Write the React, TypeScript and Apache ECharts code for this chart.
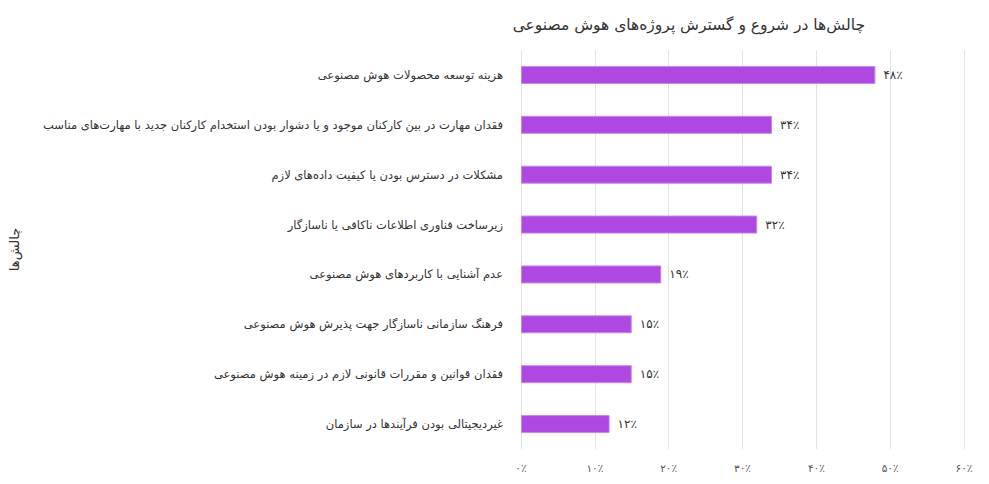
import { useEffect, useRef } from 'react'
import * as echarts from 'echarts'

// ── Data ─────────────────────────────────────────────────────────────────────
const TITLE = 'چالش‌ها در شروع و گسترش پروژه‌های هوش مصنوعی'
const AXIS_NAME = 'چالش‌ها'

const CATEGORIES = [
  'هزینه توسعه محصولات هوش مصنوعی',
  'فقدان مهارت در بین کارکنان موجود و یا دشوار بودن استخدام کارکنان جدید با مهارت‌های مناسب',
  'مشکلات در دسترس بودن یا کیفیت داده‌های لازم',
  'زیرساخت فناوری اطلاعات ناکافی یا ناسازگار',
  'عدم آشنایی با کاربردهای هوش مصنوعی',
  'فرهنگ سازمانی ناسازگار جهت پذیرش هوش مصنوعی',
  'فقدان قوانین و مقررات قانونی لازم در زمینه هوش مصنوعی',
  'غیردیجیتالی بودن فرآیندها در سازمان',
]
const VALUES = [48, 34, 34, 32, 19, 15, 15, 12]

const X_MIN = 0
const X_MAX = 60
const X_STEP = 10

const FONT = '"DejaVu Sans", "Noto Sans", sans-serif'
const FA_DIGITS = '۰۱۲۳۴۵۶۷۸۹'
const toFa = (n: number) => String(n).replace(/\d/g, d => FA_DIGITS[+d]) + '٪'

export default function App() {
  const chartRef = useRef<HTMLDivElement>(null)

  useEffect(() => {
    if (!chartRef.current) return
    const chart = echarts.init(chartRef.current, null, { renderer: 'svg' })

    chart.setOption({
      animation: false,
      backgroundColor: '#fff',
      textStyle: { fontFamily: FONT },
      title: {
        text: TITLE,
        right: 119,
        top: 12,
        textStyle: { fontFamily: FONT, fontSize: 15.5, fontWeight: 'normal', color: '#333' },
      },
      // outerBoundsMode 'none' keeps the grid exactly where it is set
      grid: { left: 521, right: 25, top: 50, bottom: 35, outerBoundsMode: 'none' },
      xAxis: {
        type: 'value',
        min: X_MIN,
        max: X_MAX,
        interval: X_STEP,
        axisLine: { show: false },
        axisTick: { show: false },
        splitLine: { lineStyle: { color: '#e3e3e3', width: 1 } },
        axisLabel: { formatter: (v: number) => toFa(v), fontSize: 10.5, color: '#555', margin: 13 },
      },
      yAxis: {
        type: 'category',
        inverse: true,
        data: CATEGORIES,
        name: AXIS_NAME,
        nameLocation: 'middle',
        nameGap: 500,
        nameRotate: 90,
        nameTextStyle: { fontFamily: FONT, fontSize: 13, color: '#333' },
        axisLine: { show: false },
        axisTick: { show: false },
        axisLabel: { fontSize: 11.5, color: '#333', margin: 18 },
      },
      series: [
        {
          type: 'bar',
          data: VALUES,
          barWidth: 18,
          itemStyle: { color: '#ae48e0', borderColor: '#c48ae8', borderWidth: 1 },
          label: {
            show: true,
            position: 'right',
            distance: 8,
            formatter: (p: { value: number }) => toFa(p.value),
            fontSize: 12,
            color: '#333',
          },
        },
      ],
    })

    return () => chart.dispose()
  }, [])

  return (
    <div
      ref={chartRef}
      style={{ position: 'absolute', left: 0, top: 0, width: 989, height: 484 }}
    />
  )
}
